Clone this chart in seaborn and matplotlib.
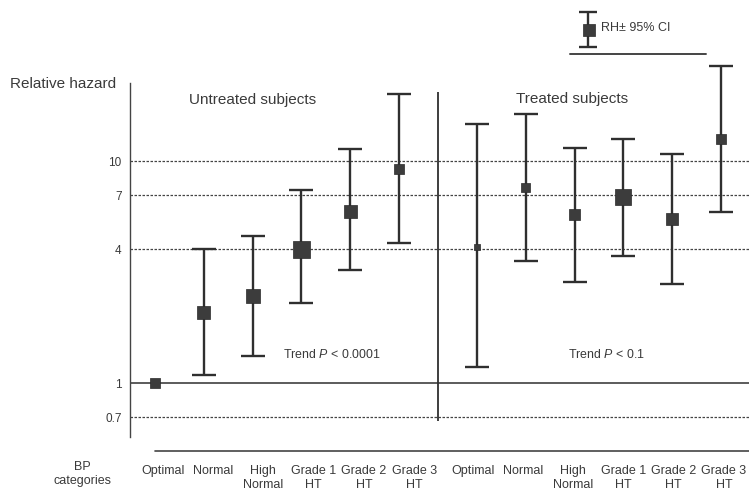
import numpy as np
import pandas as pd
import matplotlib
matplotlib.use("Agg")
import matplotlib.pyplot as plt
import seaborn as sns
from matplotlib.lines import Line2D
from matplotlib import font_manager

# ---------------- data ----------------
categories = ["Optimal", "Normal", "High\nNormal", "Grade 1\nHT", "Grade 2\nHT", "Grade 3\nHT"]
groups = ["Untreated subjects", "Treated subjects"]

untreated_rh = [1.0, 2.08, 2.47, 4.0, 5.95, 9.2]
untreated_lo = [np.nan, 1.09, 1.33, 2.29, 3.22, 4.28]
untreated_hi = [np.nan, 4.0, 4.59, 7.4, 11.3, 20.0]

treated_rh = [4.1, 7.56, 5.75, 6.86, 5.48, 12.5]
treated_lo = [1.18, 3.56, 2.84, 3.74, 2.79, 5.87]
treated_hi = [14.7, 16.3, 11.5, 12.5, 10.7, 26.8]

trend_labels = ["Trend $\\it{P}$ < 0.0001", "Trend $\\it{P}$ < 0.1"]
yticks = [0.7, 1, 4, 7, 10]
ytick_labels = ["0.7", "1", "4", "7", "10"]
legend_label = "RH\u00b1 95% CI"
legend_key_rh = [1.0]
legend_key_err = [0.5]

# ---------------- style ----------------
marker_px = [10, 13, 14, 17, 13, 10, 6, 9, 11, 16, 12, 10]
group_gap = 6.6
label_step = 1.03
label_shift = [0.16, -0.09]
DARK = "#2f2f2f"
TXT = "#3a3a3a"

sns.set_style("white")
avail = {f.name for f in font_manager.fontManager.ttflist}
main_font = [f for f in ["Liberation Sans", "DejaVu Sans"] if f in avail]
plt.rcParams["font.family"] = main_font
plt.rcParams["mathtext.fontset"] = "custom"
plt.rcParams["mathtext.it"] = main_font[0] + ":italic"
plt.rcParams["mathtext.rm"] = main_font[0]

rows = []
for g, (rh, lo, hi) in enumerate([(untreated_rh, untreated_lo, untreated_hi),
                                  (treated_rh, treated_lo, treated_hi)]):
    for i, cat in enumerate(categories):
        rows.append(dict(group=groups[g], category=cat, x=i + g * group_gap,
                         xlab=i * label_step + g * group_gap + label_shift[g],
                         rh=rh[i], lo=lo[i], hi=hi[i]))
df = pd.DataFrame(rows)

W, H = 749, 493
fig = plt.figure(figsize=(W / 100, H / 100), dpi=100)
ax = fig.add_axes([130 / W, 1 - 437 / H, 1 - 130 / W, 437 / H])
ax.set_yscale("log")
unit = 48.8
ax.set_xlim((130 - 155) / unit, (749 - 155) / unit)
ax.set_ylim(10 ** ((383 - 437) / 222), 10 ** (383 / 222))

# reference lines
ax.axhline(1, color=DARK, lw=1.1, zorder=1)
for v in [10, 7, 4, 0.7]:
    ax.axhline(v, color="#444444", lw=0.9, ls=(0, (2, 1.2)), zorder=1)
divider = (5 + group_gap) / 2
ax.vlines(divider, 10 ** ((383 - 421) / 222), 10 ** ((383 - 92) / 222), color=DARK, lw=1.3, zorder=1)

# error bars
ci = df.dropna(subset=["lo", "hi"])
ax.errorbar(ci["x"], ci["rh"], yerr=[ci["rh"] - ci["lo"], ci["hi"] - ci["rh"]],
            fmt="none", ecolor=DARK, elinewidth=1.7, capsize=8.3, capthick=1.7, zorder=2)

# markers
sizes = [(p * 0.72) ** 2 for p in marker_px]
sns.scatterplot(data=df, x="x", y="rh", marker="s", s=sizes, color="#3c3c3c",
                edgecolor="#2a2a2a", linewidth=0.5, zorder=3, ax=ax, legend=False)

# axes styling
for s in ["top", "right", "bottom"]:
    ax.spines[s].set_visible(False)
ax.spines["left"].set_color("#444444")
ax.spines["left"].set_linewidth(1.0)
ax.spines["left"].set_bounds(ax.get_ylim()[0], 10 ** ((383 - 83) / 222))
ax.set_yticks(yticks)
ax.set_yticklabels(ytick_labels)
ax.yaxis.set_minor_locator(matplotlib.ticker.NullLocator())
ax.tick_params(axis="y", length=0, pad=6, labelsize=8.5, labelcolor=TXT)
ax.set_xticks(df["xlab"])
ax.set_xticklabels(df["category"], fontsize=9.0, color=TXT, linespacing=1.25)
ax.tick_params(axis="x", length=0, pad=20)
ax.set_xlabel("")
ax.set_ylabel("")
ax.grid(False)

# group titles and trend text
ax.text(1.99, 10 ** ((383 - 100) / 222), groups[0], ha="center", va="center", fontsize=11, color=TXT)
ax.text(group_gap + 1.94, 10 ** ((383 - 99) / 222), groups[1], ha="center", va="center", fontsize=11, color=TXT)
ax.text(3.62, 10 ** ((383 - 355) / 222), trend_labels[0], ha="center", va="center", fontsize=8.9, color=TXT)
ax.text(group_gap + 2.65, 10 ** ((383 - 354) / 222), trend_labels[1], ha="center", va="center", fontsize=8.9, color=TXT)

fig.text(10 / W, 1 - 84 / H, "Relative hazard", ha="left", va="center", fontsize=11, color=TXT)
fig.text(82 / W, 1 - 461 / H, "BP\ncategories", ha="center", va="top", fontsize=9.0,
         color=TXT, linespacing=1.25)

# bottom rule and legend rule
fig.add_artist(Line2D([155 / W, 1.0], [1 - 451 / H] * 2, color="#444444", lw=1.2))
fig.add_artist(Line2D([570 / W, 706 / W], [1 - 54 / H] * 2, color="#444444", lw=1.4))

# legend key
lax = fig.add_axes([578 / W, 1 - 47 / H, 20 / W, 35 / H])
lax.set_xlim(-1, 1)
lax.set_ylim(legend_key_rh[0] - legend_key_err[0], legend_key_rh[0] + legend_key_err[0])
lax.errorbar([0], legend_key_rh, yerr=[legend_key_err, legend_key_err], fmt="none",
             ecolor=DARK, elinewidth=1.7, capsize=6.8, capthick=1.7, clip_on=False)
lax.scatter([0.1], legend_key_rh, marker="s", s=(12.5 * 0.72) ** 2, color="#3c3c3c",
            edgecolor="#2a2a2a", linewidth=0.5, zorder=3, clip_on=False)
lax.axis("off")
fig.text(601 / W, 1 - 28 / H, legend_label, ha="left", va="center", fontsize=9, color=TXT)

fig.savefig("out.png", dpi=100)
